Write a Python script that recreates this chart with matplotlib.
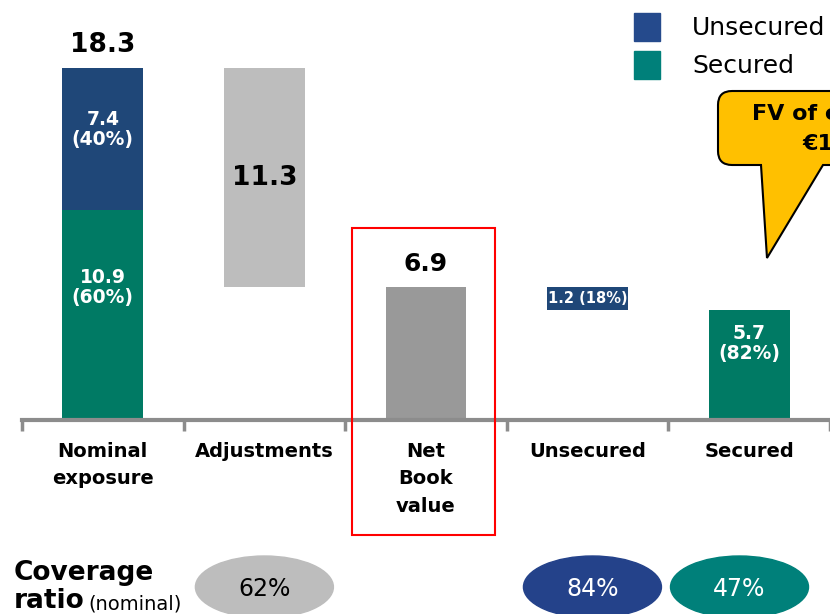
import numpy as np
import matplotlib
matplotlib.use("Agg")
import matplotlib.pyplot as plt
from matplotlib.patches import Rectangle, Ellipse, PathPatch
from matplotlib.path import Path

plt.rcParams['font.family'] = ['DejaVu Sans']

# Datos del gráfico (mil millones)
categorias = ["Nominal\nexposure", "Adjustments", "Net\nBook\nvalue", "Unsecured", "Secured"]
nominal_secured = 10.9
nominal_unsecured = 7.4
nominal_total = 18.3
ajustes_label = 11.3
net_book = 6.9
unsecured = 1.2
secured = 5.7
pct_nominal = ["(40%)", "(60%)"]
pct_net = ["(18%)", "(82%)"]
cobertura = ["62%", "84%", "47%"]
leyenda = ["Unsecured", "Secured"]

AZUL = '#1F4778'
VERDE = '#007A64'
AZUL_LEY = '#254A8C'
TEAL = '#00807A'
GRIS_CLARO = '#BDBDBD'
GRIS = '#999999'
EJE = '#8C8C8C'

W, H = 830, 614
fig = plt.figure(figsize=(8.3, 6.14), dpi=100)
ax = fig.add_axes([22 / W, (H - 420) / H, 808 / W, 420 / H])
ymax = nominal_total * 420 / 352
ax.set_xlim(-0.5, 4.5)
ax.set_ylim(0, ymax)
ppu = 420 / ymax  # pixeles por unidad

x = np.arange(len(categorias))
ancho = 0.5

# Barras
ax.bar(x[0], nominal_secured, ancho, color=VERDE)
ax.bar(x[0], nominal_unsecured, ancho, bottom=nominal_secured, color=AZUL)
ax.bar(x[1], nominal_total - net_book, ancho, bottom=net_book, color=GRIS_CLARO)
ax.bar(x[2], net_book, ancho, color=GRIS)
ax.bar(x[3], unsecured, ancho, bottom=secured, color=AZUL)
ax.bar(x[4], secured, ancho, color=VERDE)

# Etiquetas
ax.text(x[0], nominal_total + 23 / ppu, f"{nominal_total}", ha='center', va='center',
        fontsize=19, fontweight='bold')
ax.text(x[0], nominal_secured + nominal_unsecured / 2 + 0.5, f"{nominal_unsecured}\n{pct_nominal[0]}",
        ha='center', va='center', fontsize=13.5, fontweight='bold', color='white', linespacing=1.05)
ax.text(x[0], nominal_secured - 4.0, f"{nominal_secured}\n{pct_nominal[1]}",
        ha='center', va='center', fontsize=13.5, fontweight='bold', color='white', linespacing=1.05)
ax.text(x[1], (nominal_total + net_book) / 2, f"{ajustes_label}", ha='center', va='center',
        fontsize=19, fontweight='bold')
ax.text(x[2], net_book + 23 / ppu, f"{net_book}", ha='center', va='center',
        fontsize=18, fontweight='bold')
ax.text(x[3], secured + unsecured / 2, f"{unsecured} {pct_net[0]}", ha='center', va='center',
        fontsize=10.5, fontweight='bold', color='white')
ax.text(x[4], secured - 33 / ppu, f"{secured}\n{pct_net[1]}", ha='center', va='center',
        fontsize=13.5, fontweight='bold', color='white', linespacing=1.05)

# Eje
for s in ['top', 'left', 'right']:
    ax.spines[s].set_visible(False)
ax.spines['bottom'].set_color(EJE)
ax.spines['bottom'].set_linewidth(3)
ax.set_yticks([])
ax.set_xticks(x)
ax.set_xticklabels(categorias, fontsize=14, fontweight='bold', linespacing=1.55)
ax.tick_params(axis='x', which='major', length=0, pad=16)
ax.set_xticks(np.arange(-0.5, 5.0, 1.0), minor=True)
ax.tick_params(axis='x', which='minor', length=8, width=2.5, color=EJE, direction='out')

# Recuadro rojo alrededor de Net Book value
top_box = net_book + (23 + 36) / ppu
bot_box = -(535 - 420) / ppu
ax.add_patch(Rectangle((1.543, bot_box), 0.887, top_box - bot_box, fill=False,
                       edgecolor='#FF0000', linewidth=1.5, clip_on=False, zorder=5))

# Elipses de cobertura
y_el = -(587 - 420) / ppu
el_w = 138 / 161.6
el_h = 62 / ppu
for xc, col, txt, tc in [(x[1], GRIS_CLARO, cobertura[0], 'black'),
                         (x[3] + 0.03, '#24428A', cobertura[1], 'white'),
                         (x[4] - 0.06, TEAL, cobertura[2], 'white')]:
    ax.add_patch(Ellipse((xc, y_el), el_w, el_h, color=col, clip_on=False))
    ax.text(xc, y_el - 0.1, txt, ha='center', va='center', fontsize=17, color=tc)

fig.text(14 / W, 1 - 573 / H, "Coverage", fontsize=19, fontweight='bold', va='center')
fig.text(14 / W, 1 - 601 / H, "ratio", fontsize=19, fontweight='bold', va='center')
fig.text(88 / W, 1 - 604 / H, "(nominal)", fontsize=14, va='center')


def fp(px, py):
    return (px / W, 1 - py / H)


# Leyenda
for i, (lab, col) in enumerate(zip(leyenda, [AZUL_LEY, TEAL])):
    y0 = 13 + i * 38
    fig.add_artist(Rectangle(fp(634, y0 + 28), 26 / W, 28 / H, color=col, transform=fig.transFigure))
    fig.text(692 / W, 1 - (y0 + 15) / H, lab, fontsize=18, va='center')

# Globo amarillo
r = 14
verts = [fp(718 + r, 91), fp(900, 91), fp(900, 165), fp(823, 165), fp(767, 258), fp(761, 165),
         fp(718 + r, 165), fp(718, 165), fp(718, 165 - r), fp(718, 91 + r), fp(718, 91), fp(718 + r, 91),
         fp(718 + r, 91)]
codes = [Path.MOVETO, Path.LINETO, Path.LINETO, Path.LINETO, Path.LINETO, Path.LINETO,
         Path.LINETO, Path.CURVE3, Path.CURVE3, Path.LINETO, Path.CURVE3, Path.CURVE3, Path.CLOSEPOLY]
fig.add_artist(PathPatch(Path(verts, codes), facecolor='#FFC000', edgecolor='black', linewidth=1.5,
                         transform=fig.transFigure))
fig.text(752 / W, 1 - 114 / H, "FV of collateral", fontsize=16, fontweight='bold', va='center')
fig.text(802 / W, 1 - 144 / H, "€1", fontsize=16, fontweight='bold', va='center')

fig.savefig("out.png", dpi=100)
